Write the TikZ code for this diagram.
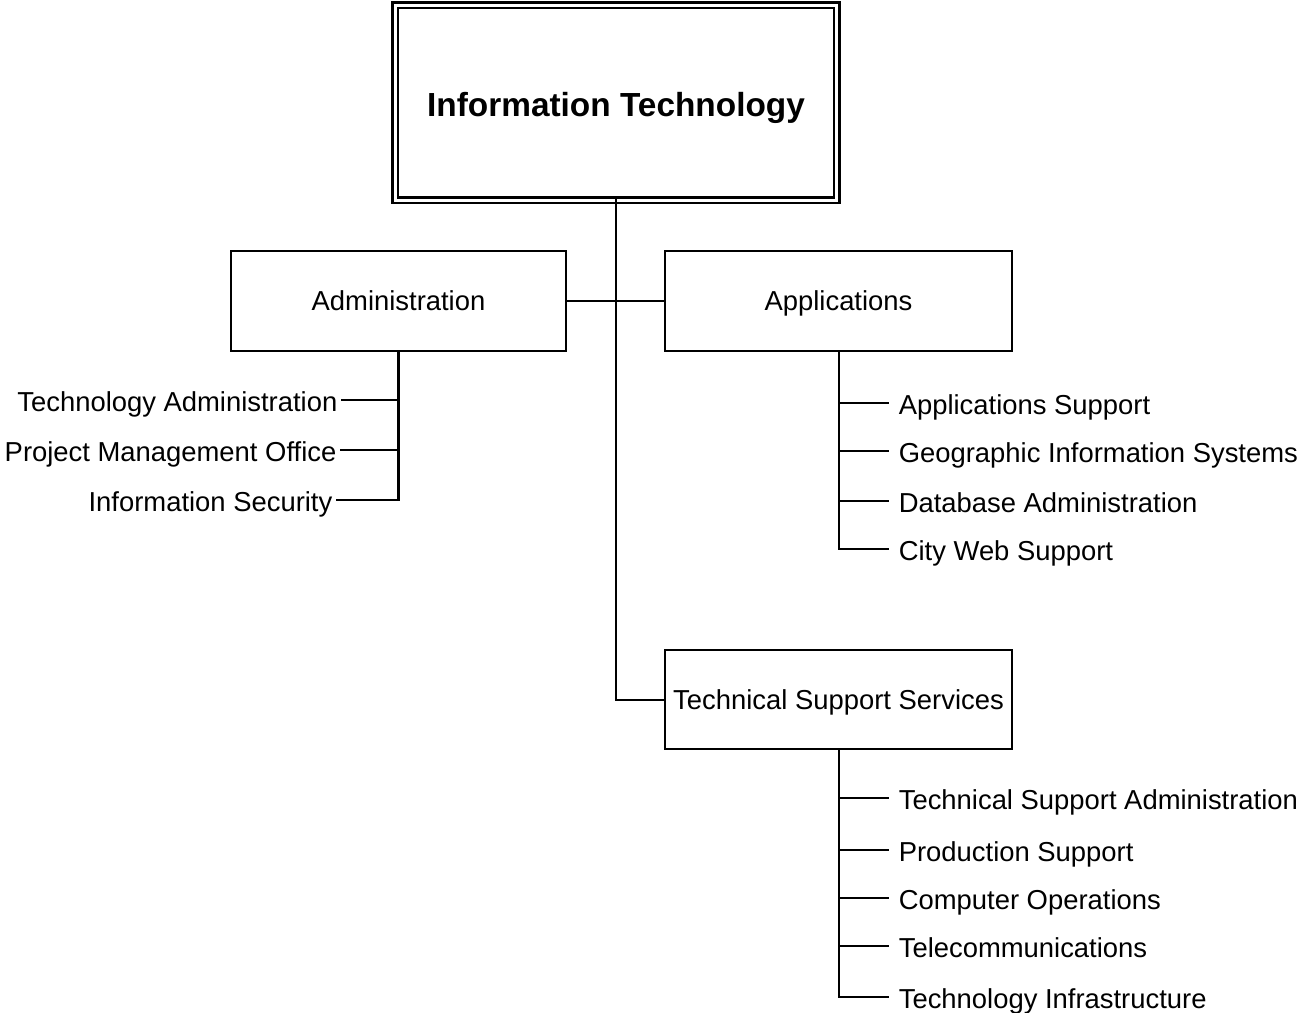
\documentclass[tikz,border=0pt]{standalone}
\usepackage{fontspec}
\setmainfont{Liberation Sans}
\usepackage{tikz}

\begin{document}
\begin{tikzpicture}[x=0.02cm, y=-0.02cm, line width=1.15pt,
  unit/.style={shape=rectangle, draw=black, minimum height=2cm, inner sep=0pt, text height=11.3pt, text depth=0pt, font=\fontsize{15.6}{18}\selectfont},
  sub/.style={font=\fontsize{15.6}{18}\selectfont, text height=15pt, text depth=2pt, inner ysep=0pt},
  subleft/.style={sub, anchor=east, inner xsep=1.5pt},
  subright/.style={sub, anchor=west, inner xsep=5pt}]
\useasboundingbox (0,0) rectangle (1301,1012);
% top box
\node[shape=rectangle, draw=black, minimum width=8.72cm, minimum height=3.8cm, text height=19.5pt, text depth=4pt, font=\fontsize{19}{22}\selectfont\bfseries] at (616,102.5) (IT) {Information Technology};
\draw[line width=1.7pt] ([xshift=-0.09cm, yshift=-0.09cm]IT.south west) rectangle ([xshift=0.09cm, yshift=0.09cm]IT.north east);
% units
\node[unit, minimum width=6.7cm] at (398.5,301) (Adm) {Administration};
\node[unit, minimum width=6.94cm] at (838.5,301) (App) {Applications};
\node[unit, minimum width=6.94cm, minimum height=1.98cm] at (838.5,699.5) (TSS) {Technical Support Services};
\draw (IT.south) |- (TSS.west);
\draw (Adm.east) -- (App.west);
% administration
\node[subleft] at (341,400) (TA) {Technology Administration};
\node[subleft] at (340,450) (PMO) {Project Management Office};
\node[subleft] at (336,500) (IS) {Information Security};
\foreach \s in {TA,PMO,IS}
  \draw (Adm.south) |- (\s.east);
% applications
\node[subright] at (889,403) (AS) {Applications Support};
\node[subright] at (889,451) (GIS) {Geographic Information Systems};
\node[subright] at (889,501) (DBA) {Database Administration};
\node[subright] at (889,549) (CWS) {City Web Support};
\foreach \s in {AS,GIS,DBA,CWS}
  \draw (App.south) |- (\s.west);
% technical support services
\node[subright] at (889,798) (TSA) {Technical Support Administration};
\node[subright] at (889,850) (PS) {Production Support};
\node[subright] at (889,898) (CO) {Computer Operations};
\node[subright] at (889,946) (TC) {Telecommunications};
\node[subright] at (889,997) (TI) {Technology Infrastructure};
\foreach \s in {TSA,PS,CO,TC,TI}
  \draw (TSS.south) |- (\s.west);
\end{tikzpicture}
\end{document}
